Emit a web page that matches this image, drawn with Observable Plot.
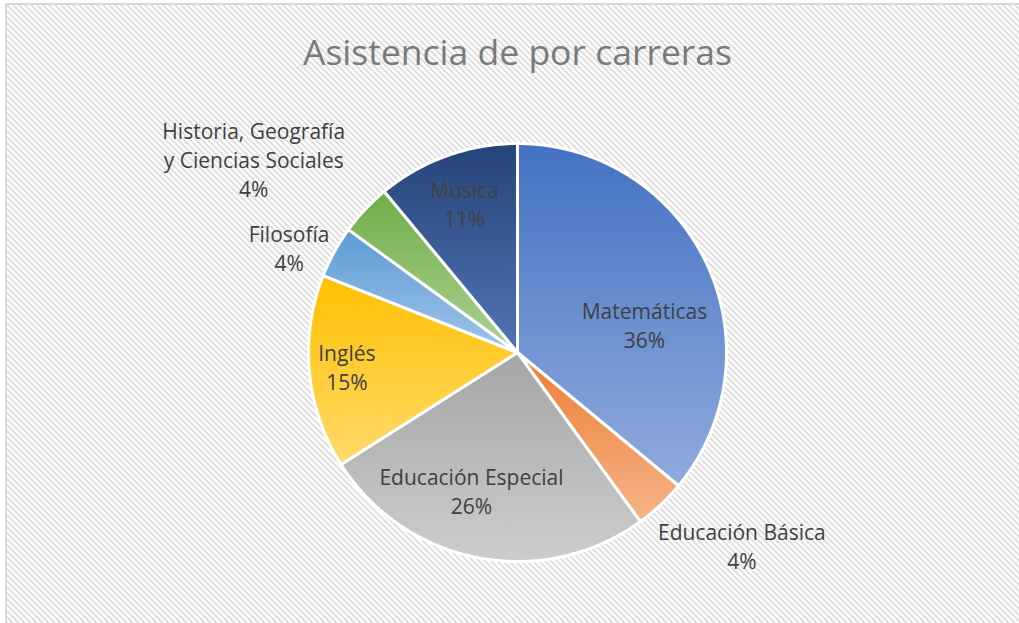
<!DOCTYPE html>
<html><head><meta charset="utf-8">
<script src="https://cdn.jsdelivr.net/npm/d3@7"></script>
<script src="https://cdn.jsdelivr.net/npm/@observablehq/plot@0.6"></script>
<style>
body{margin:0;background:#fff;}
#wrap{position:relative;width:1019px;height:623px;overflow:hidden;background:#fff;}
#bg{position:absolute;left:5px;top:3px;width:1030px;height:640px;border-left:2px solid #d9d9d9;border-top:2px solid #d9d9d9;box-sizing:border-box;background-color:#fff;}
#chart{position:absolute;left:0;top:0;}
</style></head><body><div id="wrap"><div id="bg"></div><div id="chart"></div></div>
<script>
// ---- data ----
const titleText = "Asistencia de por carreras";
const categories = ["Matemáticas","Educación Básica","Educación Especial","Inglés","Filosofía","Historia, Geografía\ny Ciencias Sociales","Música"];
const percents = [36,4,26,15,4,4,11];

// ---- styles / layout ----
const topColors = ["#4472C4","#ED7D31","#A5A5A5","#FFC000","#5B9BD5","#70AD47","#264478"];
const bottomColors = ["#90ABDC","#F5B589","#CDCDCD","#FFDA6B","#A2C5E8","#ADD293","#5274B6"];
// label placement: radius factor and angular nudge (degrees) relative to slice middle
const labelRadius = [0.62,1.42,0.705,0.82,1.2,1.56,0.75];
const labelNudge = [13.6,-5.9,7.4,0,-4.4,-7.2,0];

// hatched background tile (diagonal stripes)
const tile = "<svg xmlns='http://www.w3.org/2000/svg' width='6' height='6'><path d='M-1 -1L7 7M-4 2L2 8M2 -4L8 2' stroke='#e0e0e0' stroke-width='2.1'/></svg>";
document.getElementById("bg").style.backgroundImage = `url("data:image/svg+xml,${encodeURIComponent(tile)}")`;

const W = 1019, H = 623, cx = 517, cy = 352, R = 209;
const total = d3.sum(percents);
let acc = 0;
const slices = percents.map((v, i) => {
  const a0 = acc / total * 2 * Math.PI; acc += v;
  const a1 = acc / total * 2 * Math.PI;
  const pts = [{x: 0, y: 0}];
  const n = Math.max(8, Math.ceil((a1 - a0) / (Math.PI / 360)));
  for (let k = 0; k <= n; k++) {
    const a = a0 + (a1 - a0) * k / n;
    pts.push({x: Math.sin(a), y: Math.cos(a)});
  }
  pts.push({x: 0, y: 0});
  return {i, a0, a1, pts};
});
const labels = slices.map(s => {
  const a = (s.a0 + s.a1) / 2 + labelNudge[s.i] * Math.PI / 180;
  const r = labelRadius[s.i];
  return {x: r * Math.sin(a), y: r * Math.cos(a), text: `${categories[s.i]}\n${percents[s.i]}%`};
});

const plot = Plot.plot({
  width: W, height: H, margin: 0,
  style: {background: "transparent", fontFamily: "'Open Sans', sans-serif"},
  x: {domain: [-cx / R, (W - cx) / R], axis: null},
  y: {domain: [-(H - cy) / R, cy / R], axis: null},
  marks: [
    ...slices.map(s => Plot.line(s.pts, {x: "x", y: "y", fill: `url(#g${s.i})`, stroke: "white", strokeWidth: 3, strokeLinejoin: "round"})),
    Plot.text(labels, {x: "x", y: "y", dy: -2, text: "text", fontSize: 21, lineHeight: 1.38, fill: "#404040"}),
    Plot.text([titleText], {x: () => 0, frameAnchor: "top", lineAnchor: "bottom", dy: 64, text: d => d, fontSize: 35.5, fill: "#7a7a7a"})
  ]
});
const defs = d3.select(plot).insert("defs", ":first-child");
topColors.forEach((c, i) => {
  const g = defs.append("linearGradient").attr("id", `g${i}`).attr("x1", 0).attr("y1", 0).attr("x2", 0).attr("y2", 1);
  g.append("stop").attr("offset", "0%").attr("stop-color", c);
  g.append("stop").attr("offset", "100%").attr("stop-color", bottomColors[i]);
});
document.getElementById("chart").appendChild(plot);
</script>
</body></html>
